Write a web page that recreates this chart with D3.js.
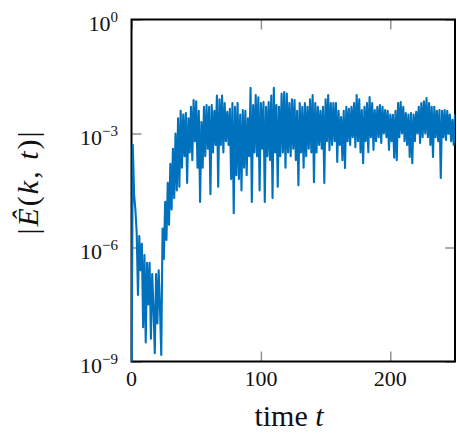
<!DOCTYPE html>
<html><head><meta charset="utf-8">
<script src="https://cdn.jsdelivr.net/npm/d3@7"></script>
<style>body{margin:0;background:#fff}</style></head>
<body><svg id="c" width="457" height="440"></svg>
<script>
// time grid: t = 0,1,...,250
const timeStart = 0;
const timeStep = 1;
// log10 |E^(k,t)|, one value per time unit
const log10E = [
 -9.8,-3.3,-4.6,-5.0,-5.6,-7.25,-5.7,-6.6,-5.9,-8.1,
 -6.2,-8.5,-6.4,-7.5,-6.4,-8.4,-6.7,-7.6,-8.78,-6.7,
 -8.0,-6.6,-7.6,-8.83,-5.5,-6.3,-4.8,-5.8,-4.3,-5.4,
 -3.8,-5.0,-3.4,-4.7,-3.0,-4.5,-2.6,-4.4,-2.4,-3.9,
 -2.5,-3.6,-2.46,-4.3,-2.6,-3.5,-2.3,-3.7,-2.12,-3.2,
 -2.15,-3.9,-2.4,-4.8,-2.7,-3.9,-2.3,-3.6,-2.25,-3.4,
 -2.3,-4.6,-2.25,-3.5,-2.4,-3.3,-2.0,-4.4,-2.1,-3.3,
 -2.0,-3.5,-2.2,-3.2,-2.43,-3.3,-2.35,-4.2,-2.2,-5.1,
 -2.3,-4.1,-2.2,-4.2,-2.5,-4.5,-2.38,-3.9,-2.4,-4.1,
 -2.6,-3.6,-1.8,-4.8,-2.25,-3.5,-1.99,-3.6,-2.05,-4.5,
 -2.2,-3.4,-2.17,-4.8,-2.3,-3.6,-2.17,-3.7,-2.0,-4.7,
 -1.8,-3.5,-2.25,-4.4,-2.3,-3.6,-1.95,-3.5,-1.91,-3.9,
 -1.95,-3.5,-2.2,-3.6,-2.1,-3.4,-2.12,-3.7,-2.4,-4.36,
 -2.2,-3.5,-2.3,-3.9,-2.2,-3.6,-2.3,-3.4,-2.1,-3.5,
 -1.99,-4.28,-2.2,-3.5,-2.3,-3.3,-2.4,-3.4,-2.3,-4.3,
 -2.1,-3.2,-1.99,-3.44,-2.2,-3.3,-2.2,-3.2,-2.2,-3.75,
 -2.4,-3.3,-2.57,-3.7,-2.4,-3.91,-2.3,-3.2,-2.35,-3.3,
 -2.3,-3.1,-2.2,-3.36,-1.99,-3.2,-2.1,-3.5,-2.38,-3.78,
 -2.3,-3.2,-2.2,-3.49,-2.04,-3.1,-2.2,-3.43,-2.38,-3.2,
 -2.3,-3.1,-2.25,-3.25,-2.3,-3.0,-2.38,-3.1,-2.4,-3.43,
 -2.5,-3.2,-2.51,-3.64,-2.4,-3.7,-2.2,-3.1,-2.17,-3.0,
 -2.3,-3.2,-2.46,-3.3,-2.5,-3.62,-2.46,-3.78,-2.5,-3.2,
 -2.43,-3.0,-2.3,-3.25,-2.2,-3.1,-2.15,-3.0,-2.07,-3.1,
 -2.2,-3.3,-2.3,-3.62,-2.3,-3.1,-2.4,-3.2,-2.38,-4.17,
 -2.4,-3.1,-2.38,-3.17,-2.4,-3.0,-2.5,-3.2,-2.64,-3.3,
 -2.5
];
const xDomain = [0, 250];
const yDomain = [1e-9, 1];
const xTicks = [0, 100, 200];
const yTickExponents = [-9, -6, -3, 0];
const lineColor = "#0072BD";

const svg = d3.select("#c");
const L = 131.5, R = 455, T = 19.5, B = 361.5;
const x = d3.scaleLinear().domain(xDomain).range([L, R]);
const y = d3.scaleLog().domain(yDomain).range([B, T]);
const yTicks = yTickExponents.map(e => Math.pow(10, e));

const data = log10E.map((v, i) => ({t: timeStart + i * timeStep, v: Math.pow(10, v)}));

// ticks (inside, gray, mirrored)
const tickCol = "#8c8c8c", tl = 10;
function styleAxis(g){ g.select(".domain").remove(); g.selectAll("line").attr("stroke", tickCol).attr("stroke-width", 1.4); g.selectAll("text").remove(); }
svg.append("g").attr("transform", `translate(0,${B})`).call(d3.axisBottom(x).tickValues(xTicks).tickSize(-tl)).call(styleAxis);
svg.append("g").attr("transform", `translate(0,${T})`).call(d3.axisTop(x).tickValues(xTicks).tickSize(-tl)).call(styleAxis);
svg.append("g").attr("transform", `translate(${L},0)`).call(d3.axisLeft(y).tickValues(yTicks).tickSize(-tl)).call(styleAxis);
svg.append("g").attr("transform", `translate(${R},0)`).call(d3.axisRight(y).tickValues(yTicks).tickSize(-tl)).call(styleAxis);

// frame
svg.append("rect").attr("x", L).attr("y", T).attr("width", R - L).attr("height", B - T)
  .attr("fill", "none").attr("stroke", "#000").attr("stroke-width", 2);

// data line
svg.append("clipPath").attr("id", "clip").append("rect")
  .attr("x", L - 1).attr("y", T).attr("width", R - L + 1).attr("height", B - T);
svg.append("path").datum(data)
  .attr("clip-path", "url(#clip)")
  .attr("fill", "none").attr("stroke", lineColor).attr("stroke-width", 2.1)
  .attr("stroke-linejoin", "round")
  .attr("d", d3.line().x(d => x(d.t)).y(d => y(Math.max(d.v, 1e-11))));

const font = "'Liberation Serif', 'Times New Roman', serif";
// x tick labels
svg.append("g").selectAll("text").data(xTicks).join("text")
  .attr("x", d => x(d)).attr("y", B + 24.5).attr("text-anchor", "middle")
  .attr("font-family", font).attr("font-size", 22).attr("fill", "#111").text(d => d);
// y tick labels
const yl = svg.append("g").selectAll("text").data(yTickExponents).join("text")
  .attr("x", 118).attr("y", d => y(Math.pow(10, d)) + 11.5).attr("text-anchor", "end")
  .attr("font-family", font).attr("font-size", 22).attr("fill", "#111");
yl.append("tspan").text("10");
yl.append("tspan").attr("dy", -9.5).attr("font-size", 15).text(d => d < 0 ? "\u2212" + (-d) : d);

// x label
const xl = svg.append("text").attr("x", 289).attr("y", 426).attr("text-anchor", "middle")
  .attr("font-family", font).attr("font-size", 30).attr("fill", "#111");
xl.append("tspan").text("time ");
xl.append("tspan").attr("font-style", "italic").text("t");

// y label
const ylab = svg.append("text").attr("transform", "translate(38,182) rotate(-90)")
  .attr("text-anchor", "middle").attr("font-family", font).attr("font-size", 30).attr("fill", "#111")
  .attr("letter-spacing", 2);
ylab.append("tspan").text("|");
ylab.append("tspan").attr("font-style", "italic").text("\u00CA");
ylab.append("tspan").text("(");
ylab.append("tspan").attr("font-style", "italic").text("k");
ylab.append("tspan").text(", ");
ylab.append("tspan").attr("font-style", "italic").text("t");
ylab.append("tspan").text(")|");
</script></body></html>
